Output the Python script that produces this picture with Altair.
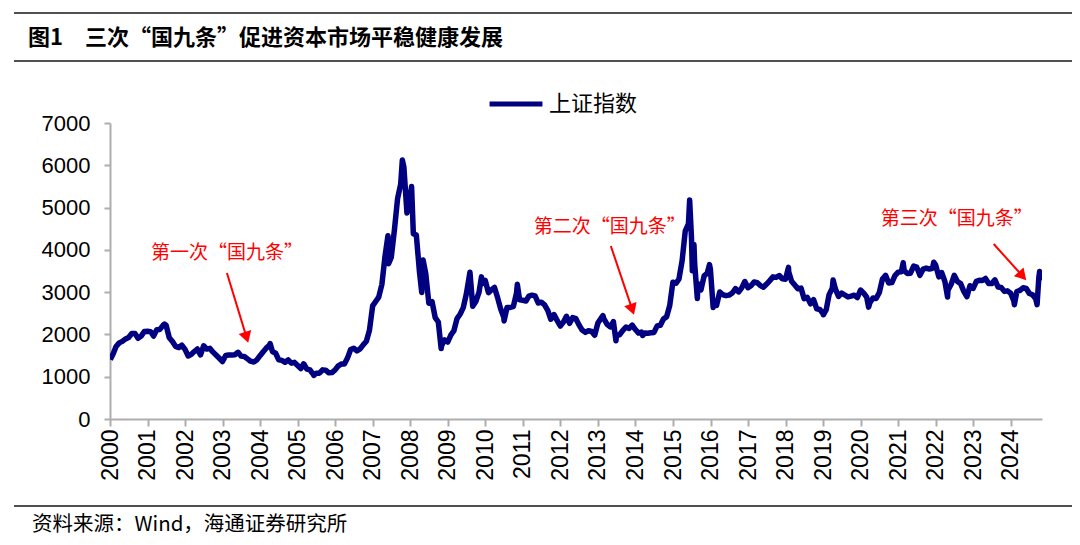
import altair as alt
import pandas as pd

# ---- monthly closes of the 上证指数, Jan 2000 .. Oct 2024
close_2000 = [1535, 1714, 1800, 1836, 1894, 1928, 2023, 2022, 1910, 1961, 2071, 2073]
close_2001 = [2065, 1960, 2112, 2119, 2214, 2218, 1921, 1834, 1717, 1690, 1747, 1646]
close_2002 = [1491, 1524, 1594, 1655, 1515, 1732, 1653, 1670, 1581, 1507, 1436, 1358]
close_2003 = [1500, 1512, 1511, 1521, 1577, 1487, 1477, 1421, 1367, 1349, 1397, 1497]
close_2004 = [1591, 1675, 1742, 1595, 1555, 1400, 1386, 1342, 1396, 1321, 1340, 1266]
close_2005 = [1191, 1306, 1181, 1159, 1061, 1081, 1083, 1162, 1155, 1092, 1099, 1161]
close_2006 = [1259, 1299, 1299, 1440, 1642, 1673, 1612, 1658, 1753, 1838, 2099, 2675]
close_2007 = [2786, 2882, 3184, 3841, 4110, 3821, 4471, 5219, 5553, 5955, 4871, 5262]
close_2008 = [4383, 4349, 3473, 3693, 3433, 2736, 2776, 2397, 2293, 1729, 1872, 1821]
close_2009 = [1991, 2082, 2373, 2478, 2633, 2959, 3412, 2667, 2779, 2996, 3195, 3277]
close_2010 = [2989, 3052, 3110, 2871, 2592, 2398, 2638, 2639, 2656, 2979, 2820, 2808]
close_2011 = [2790, 2906, 2928, 2911, 2743, 2762, 2701, 2568, 2359, 2469, 2333, 2199]
close_2012 = [2293, 2429, 2263, 2397, 2373, 2226, 2103, 2048, 2086, 2069, 1981, 2269]
close_2013 = [2385, 2366, 2237, 2178, 2301, 1979, 1994, 2098, 2175, 2142, 2221, 2116]
close_2014 = [2033, 2056, 2033, 2026, 2039, 2048, 2202, 2218, 2364, 2420, 2683, 3235]
close_2015 = [3210, 3310, 3748, 4442, 4612, 4277, 3664, 3206, 3053, 3383, 3446, 3539]
close_2016 = [2738, 2688, 3004, 2938, 2917, 2930, 2979, 3085, 3005, 3100, 3250, 3104]
close_2017 = [3159, 3242, 3223, 3155, 3117, 3192, 3273, 3361, 3349, 3393, 3317, 3307]
close_2018 = [3481, 3259, 3169, 3082, 3095, 2847, 2876, 2725, 2821, 2603, 2588, 2494]
close_2019 = [2585, 2941, 3091, 3078, 2899, 2979, 2932, 2886, 2905, 2929, 2872, 3050]
close_2020 = [2977, 2880, 2750, 2860, 2852, 2985, 3310, 3396, 3218, 3225, 3392, 3473]
close_2021 = [3483, 3509, 3442, 3447, 3615, 3591, 3397, 3544, 3568, 3547, 3564, 3640]
close_2022 = [3361, 3463, 3252, 3047, 3186, 3399, 3253, 3202, 3024, 2893, 3151, 3089]
close_2023 = [3255, 3280, 3273, 3323, 3205, 3202, 3291, 3120, 3110, 3018, 3030, 2975]
close_2024 = [2789, 3015, 3041, 3105, 3087, 2967, 2939, 2842, 3336, 3280]

# ---- intra-month highs / lows visible as spikes in the picture
extra_dates = [
    "2000-01-04", "2001-06-14", "2004-04-07", "2005-06-06", "2007-05-29",
    "2007-06-04", "2007-10-16", "2008-01-14", "2008-04-22", "2008-05-05",
    "2008-10-28", "2009-08-04", "2009-11-24", "2010-07-02", "2010-11-08",
    "2013-02-18", "2013-06-25", "2014-03-12", "2015-06-12", "2015-07-08",
    "2015-07-24", "2015-08-26", "2015-12-22", "2016-01-27", "2018-01-29",
    "2019-01-03", "2019-04-08", "2020-03-19", "2021-02-18", "2021-12-13",
    "2022-04-26", "2024-02-05", "2024-09-13", "2024-10-08",
]
extra_values = [
    1406, 2245, 1783, 1030, 4335,
    3670, 6124, 5497, 2990, 3761,
    1665, 3471, 3361, 2320, 3186,
    2444, 1849, 1974, 5178, 3507,
    4124, 2850, 3651, 2638, 3587,
    2464, 3288, 2646, 3696, 3708,
    2886, 2702, 2704, 3489,
]

series_name = "上证指数"
year_ticks = list(range(2000, 2025))

# ---- annotations (data coordinates)
ann_labels = ["第一次“国九条”", "第二次“国九条”", "第三次“国九条”"]
ann_text_dates = ["2003-02-12", "2013-04-26", "2022-07-24"]
ann_text_values = [3926, 4541, 4730]
arrow_start_dates = ["2003-02-12", "2013-05-06", "2023-07-19"]
arrow_start_values = [3453, 4091, 4139]
arrow_head_dates = ["2003-08-22", "2013-11-30", "2024-04-24"]
arrow_head_values = [1930, 2592, 3382]
arrow_head_angles = [163, 161, 138]

# ---- build tables
monthly = (close_2000 + close_2001 + close_2002 + close_2003 + close_2004 + close_2005
           + close_2006 + close_2007 + close_2008 + close_2009 + close_2010 + close_2011
           + close_2012 + close_2013 + close_2014 + close_2015 + close_2016 + close_2017
           + close_2018 + close_2019 + close_2020 + close_2021 + close_2022 + close_2023
           + close_2024)
month_ends = pd.period_range("2000-01", "2024-10", freq="M").to_timestamp(how="end").normalize()
df = pd.DataFrame({"date": list(month_ends) + list(pd.to_datetime(extra_dates)),
                   "value": monthly + extra_values})
df = df.sort_values("date").reset_index(drop=True)
df["series"] = series_name

ann_df = pd.DataFrame({"date": pd.to_datetime(ann_text_dates), "value": ann_text_values,
                       "label": ann_labels})
arrow_df = pd.DataFrame({"d0": pd.to_datetime(arrow_start_dates), "v0": arrow_start_values,
                         "d1": pd.to_datetime(arrow_head_dates), "v1": arrow_head_values,
                         "angle": arrow_head_angles})

x_scale = alt.Scale(domain=[alt.DateTime(year=2000, month=1, date=1),
                            alt.DateTime(year=2024, month=10, date=31)])
y_scale = alt.Scale(domain=[0, 7000], nice=False)

NUM_FONT = "Liberation Sans"
CJK_FONT = "Noto Sans CJK SC"
AXIS_GRAY = "#ADADAD"

x_axis = alt.Axis(values=[alt.DateTime(year=y, month=1, date=1) for y in year_ticks],
                  format="%Y", labelAngle=270, labelFontSize=23, labelFont=NUM_FONT,
                  labelColor="black", tickSize=7, tickColor=AXIS_GRAY,
                  domainColor=AXIS_GRAY, domainWidth=2, tickWidth=2,
                  labelPadding=3, grid=False, labelOverlap=False, labelBound=False,
                  labelFlush=False, title=None)
y_axis = alt.Axis(values=list(range(0, 7001, 1000)), format="d", labelFontSize=22,
                  labelFont=NUM_FONT, labelColor="black", tickSize=6,
                  tickColor=AXIS_GRAY, domainColor=AXIS_GRAY, domainWidth=2,
                  tickWidth=2, labelPadding=14, grid=False, labelOverlap=False,
                  title=None)

line = alt.Chart(df).mark_line(strokeWidth=5.5, strokeJoin="round", clip=True).encode(
    x=alt.X("date:T", scale=x_scale, title=None, axis=x_axis),
    y=alt.Y("value:Q", scale=y_scale, title=None, axis=y_axis),
    color=alt.Color("series:N", scale=alt.Scale(range=["#000080"]),
                    legend=alt.Legend(title=None, orient="none", legendX=377, legendY=-48,
                                      symbolType="stroke", symbolSize=2800,
                                      symbolStrokeWidth=5, labelFontSize=22,
                                      labelFont=CJK_FONT, labelColor="black",
                                      labelOffset=4)),
)

ann_text = alt.Chart(ann_df).mark_text(color="#FF0000", fontSize=19, font=CJK_FONT,
                                       align="center", baseline="middle").encode(
    x=alt.X("date:T", scale=x_scale, title=None, axis=x_axis),
    y=alt.Y("value:Q", scale=y_scale, title=None, axis=y_axis), text="label:N")

arrow_body = alt.Chart(arrow_df).mark_rule(color="#FF0000", strokeWidth=2).encode(
    x=alt.X("d0:T", scale=x_scale, title=None, axis=x_axis),
    y=alt.Y("v0:Q", scale=y_scale, title=None, axis=y_axis),
    x2="d1:T", y2="v1:Q")

arrow_head = alt.Chart(arrow_df).mark_point(shape="triangle-up", filled=True, opacity=1,
                                            color="#FF0000", size=170).encode(
    x=alt.X("d1:T", scale=x_scale, title=None, axis=x_axis),
    y=alt.Y("v1:Q", scale=y_scale, title=None, axis=y_axis),
    angle=alt.Angle("angle:Q", scale=None))

# ---- page decorations: title, rules, source note
deco = pd.DataFrame({"k": [0]})
rule_top = alt.Chart(deco).mark_rule(color="#505050", strokeWidth=2).encode(
    x=alt.value(-96), x2=alt.value(962), y=alt.value(-110))
rule_mid = alt.Chart(deco).mark_rule(color="#505050", strokeWidth=2).encode(
    x=alt.value(-96), x2=alt.value(962), y=alt.value(-62))
rule_bot = alt.Chart(deco).mark_rule(color="#505050", strokeWidth=2).encode(
    x=alt.value(-96), x2=alt.value(962), y=alt.value(383))
title = alt.Chart(deco).mark_text(text="图1\u3000三次“国九条”促进资本市场平稳健康发展",
                                  font=CJK_FONT, fontSize=22, fontWeight="bold",
                                  align="left", baseline="middle", color="black").encode(
    x=alt.value(-82), y=alt.value(-85))
source = alt.Chart(deco).mark_text(text="资料来源：Wind，海通证券研究所",
                                   font=CJK_FONT, fontSize=20.5, align="left",
                                   baseline="middle", color="black").encode(
    x=alt.value(-78), y=alt.value(402))

chart = alt.layer(line, arrow_body, arrow_head, ann_text,
                  rule_top, rule_mid, rule_bot, title, source).properties(
    width=932, height=296,
    background="white",
    autosize=alt.AutoSizeParams(type="none"),
    padding={"left": 102, "top": 115, "right": 30, "bottom": 121},
).configure_view(stroke=None)

chart.save("out.html", embed_options={"renderer": "svg", "actions": False})
